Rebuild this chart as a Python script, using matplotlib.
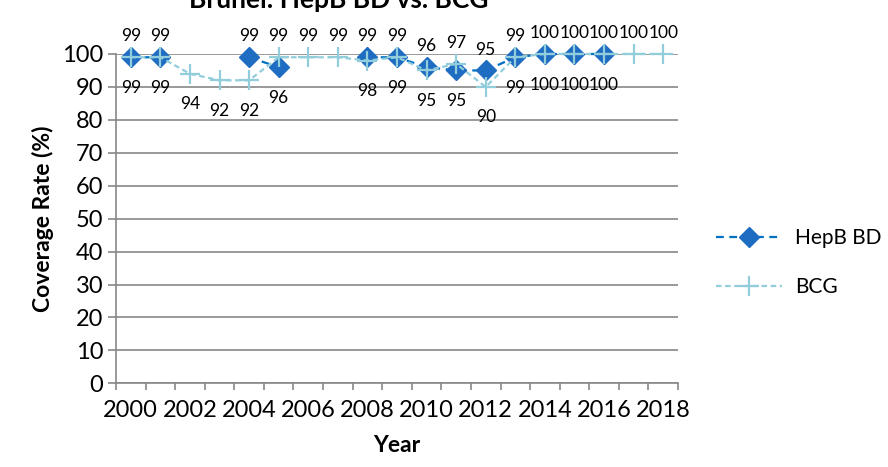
import numpy as np
import matplotlib
matplotlib.use("Agg")
import matplotlib.pyplot as plt
from matplotlib.ticker import MultipleLocator, FixedLocator

plt.rcParams['font.family'] = ['Lato', 'DejaVu Sans']

years = np.arange(2000, 2019)
hepb = [99, 99, np.nan, np.nan, 99, 96, np.nan, np.nan, 99, 99, 96, 95, 95, 99, 100, 100, 100, np.nan, np.nan]
bcg = [99, 99, 94, 92, 92, 99, 99, 99, 98, 99, 95, 97, 90, 99, 100, 100, 100, 100, 100]

# label placement as in the source (1 = above, -1 = below)
hepb_pos = [1, 1, 0, 0, 1, -1, 0, 0, 1, 1, 1, -1, 1, 1, 1, 1, 1, 0, 0]
bcg_pos = [-1, -1, -1, -1, -1, 1, 1, 1, -1, -1, -1, 1, -1, -1, -1, -1, -1, 1, 1]

c_hepb = '#1F6DC2'
c_bcg = '#92CDDC'
grid_c = '#888888'

fig = plt.figure(figsize=(8.88, 4.67), dpi=100)
ax = fig.add_axes([0.1306, 0.1792, 0.6329, 0.7052])

ax.plot(years, hepb, color='#0070C0', lw=1.6, dashes=(3.5, 2.5),
        marker='D', ms=10, mfc=c_hepb, mec=c_hepb, label='HepB BD', clip_on=False, zorder=3)
ax.plot(years, bcg, color=c_bcg, lw=1.6, dashes=(2.5, 1.6),
        marker='+', ms=15, mew=1.6, label='BCG', clip_on=False, zorder=4)

for y, v, p in zip(years, hepb, hepb_pos):
    if p:
        ax.annotate(f"{int(v)}", (y, v), xytext=(0, 15 if p > 0 else -22), textcoords='offset points',
                    ha='center', va='center', fontsize=12.5, annotation_clip=False)
for y, v, p in zip(years, bcg, bcg_pos):
    ax.annotate(f"{int(v)}", (y, v), xytext=(0, 15 if p > 0 else -22), textcoords='offset points',
                ha='center', va='center', fontsize=12.5, annotation_clip=False)

ax.set_xlim(1999.5, 2018.5)
ax.set_ylim(0, 100)
ax.yaxis.set_major_locator(MultipleLocator(10))
ax.xaxis.set_major_locator(FixedLocator(list(range(2000, 2019, 2))))
ax.xaxis.set_minor_locator(FixedLocator(list(np.arange(1999.5, 2019, 1.0))))
ax.tick_params(axis='x', which='major', length=0, labelsize=17, pad=12)
ax.tick_params(axis='x', which='minor', length=5, width=1.2, color=grid_c, direction='out')
ax.tick_params(axis='y', length=6, width=1.2, color=grid_c, labelsize=17, pad=3)

ax.grid(axis='y', color=grid_c, lw=1.2)
ax.set_axisbelow(True)
for s in ['top', 'right']:
    ax.spines[s].set_visible(False)
for s in ['left', 'bottom']:
    ax.spines[s].set_color(grid_c)
    ax.spines[s].set_linewidth(1.2)

ax.set_xlabel('Year', fontsize=16.5, fontweight='bold', labelpad=10)
ax.set_ylabel('Coverage Rate (%)', fontsize=16.5, fontweight='bold', labelpad=6)

fig.text(0.381, 0.982, 'Brunei: HepB BD vs. BCG', ha='center', va='baseline',
         fontsize=19, fontweight='bold')

fig.legend(loc='center left', bbox_to_anchor=(0.785, 0.4375), frameon=False,
           fontsize=15, handlelength=3.2, labelspacing=1.4, handletextpad=0.6)

fig.savefig('out.png', dpi=100)
